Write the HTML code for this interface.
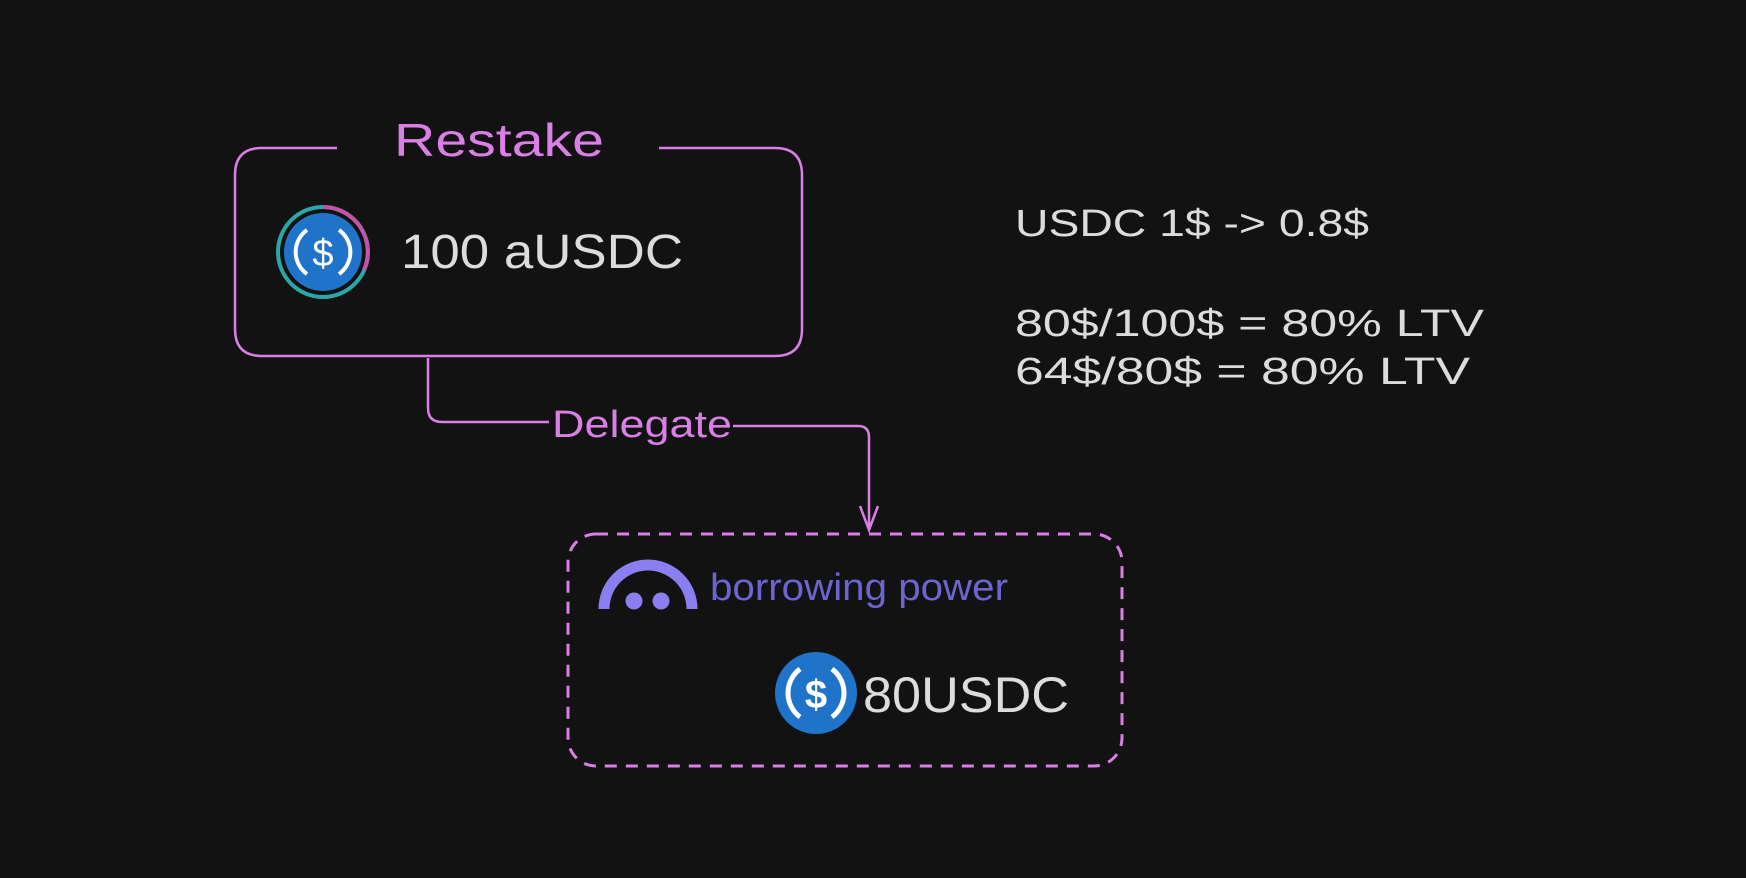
<!DOCTYPE html>
<html><head><meta charset="utf-8"><style>
html,body{margin:0;padding:0;background:#121212;}
svg{display:block}
text{font-family:"Comic Sans MS","Liberation Sans",sans-serif;}
</style></head><body>
<svg width="1746" height="878" viewBox="0 0 1746 878" xmlns="http://www.w3.org/2000/svg">
<rect width="1746" height="878" fill="#121212"/>
<!-- Restake box -->
<path d="M337 148 H262 Q235 148 235 175 V329 Q235 356 262 356 H775 Q802 356 802 329 V175 Q802 148 775 148 H659" fill="none" stroke="#d97fe6" stroke-width="2.5"/>
<text x="499" y="156" font-size="46" fill="#d97fe6" text-anchor="middle" textLength="210" lengthAdjust="spacingAndGlyphs">Restake</text>
<!-- aUSDC icon -->
<circle cx="323" cy="252" r="45" fill="none" stroke="#2aa7a8" stroke-width="4"/>
<path d="M323 207 A45 45 0 0 1 364 270" fill="none" stroke="#c552a8" stroke-width="4"/>
<circle cx="323" cy="252" r="39" fill="#1f73c9"/>
<path d="M307 230 A27 27 0 0 0 307 274 M339 230 A27 27 0 0 1 339 274" fill="none" stroke="#fff" stroke-width="4"/>
<text x="323" y="266" font-size="38" fill="#fff" text-anchor="middle" font-family="Liberation Sans">$</text>
<text x="401" y="268" font-size="48" fill="#dcdcdc" textLength="282" lengthAdjust="spacingAndGlyphs">100 aUSDC</text>
<!-- connector -->
<path d="M428 358 V408 Q428 422 442 422 H549" fill="none" stroke="#d97fe6" stroke-width="2.5"/>
<path d="M733 426 H858 Q869 426 869 437 V528" fill="none" stroke="#d97fe6" stroke-width="2.5"/>
<path d="M860 506 L869 530 L878 506" fill="none" stroke="#d97fe6" stroke-width="2.5"/>
<text x="552" y="437" font-size="38" fill="#d97fe6" textLength="180" lengthAdjust="spacingAndGlyphs">Delegate</text>
<!-- dashed box -->
<rect x="568" y="534" width="554" height="232" rx="28" fill="none" stroke="#d97fe6" stroke-width="3" stroke-dasharray="12 9"/>
<!-- borrowing icon -->
<path d="M604 609 A44 44 0 0 1 692 609" fill="none" stroke="#8b7ef0" stroke-width="11"/>
<circle cx="634" cy="601" r="8.5" fill="#8b7ef0"/>
<circle cx="661" cy="601" r="8.5" fill="#8b7ef0"/>
<text x="710" y="600" font-size="38" fill="#6e64cf" textLength="298" lengthAdjust="spacingAndGlyphs">borrowing power</text>
<!-- USDC icon -->
<ellipse cx="816" cy="693" rx="41" ry="41" fill="#1f73c9"/>
<path d="M800 669 A30 30 0 0 0 800 717 M832 669 A30 30 0 0 1 832 717" fill="none" stroke="#fff" stroke-width="5"/>
<text x="816" y="708" font-size="40" fill="#fff" text-anchor="middle" font-family="Liberation Sans" font-weight="bold">$</text>
<text x="863" y="712" font-size="50" fill="#dcdcdc" textLength="206" lengthAdjust="spacingAndGlyphs">80USDC</text>
<!-- right text -->
<text x="1015" y="236" font-size="38" fill="#dcdcdc" textLength="354" lengthAdjust="spacingAndGlyphs">USDC 1$ -&gt; 0.8$</text>
<text x="1015" y="336" font-size="38" fill="#dcdcdc" textLength="469" lengthAdjust="spacingAndGlyphs">80$/100$ = 80% LTV</text>
<text x="1015" y="384" font-size="38" fill="#dcdcdc" textLength="455" lengthAdjust="spacingAndGlyphs">64$/80$ = 80% LTV</text>
</svg>
</body></html>
